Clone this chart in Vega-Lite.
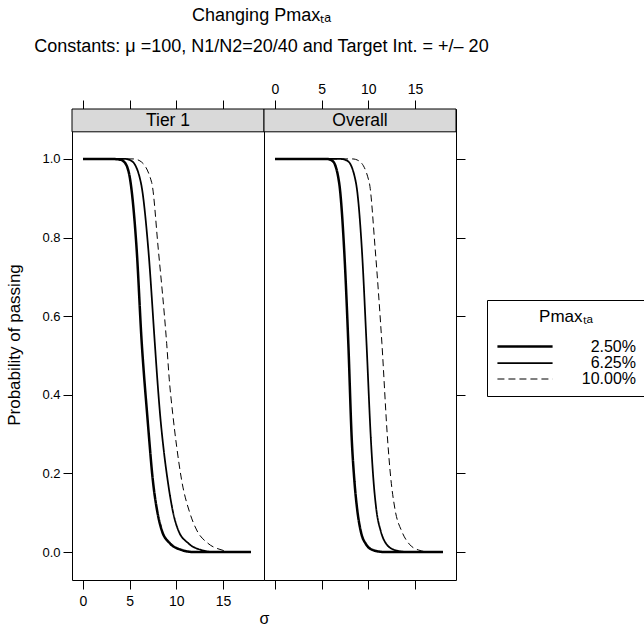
{
  "$schema": "https://vega.github.io/schema/vega-lite/v6.json",
  "padding": {"left": 5, "top": 6, "right": 0, "bottom": 2},
  "background": "white",
  "spacing": 0,
  "bounds": "flush",
  "config": {
    "font": "Liberation Sans",
    "view": {"stroke": "black", "strokeWidth": 1},
    "axis": {"domain": false, "grid": false, "tickColor": "black", "tickSize": 9, "labelColor": "black", "labelFontSize": 14, "labelFont": "Liberation Sans", "titleFont": "Liberation Sans", "titleFontWeight": "normal", "titleFontSize": 17, "titleColor": "black"},
    "legend": {"titleFontWeight": "normal", "titleFont": "Liberation Sans", "labelFont": "Liberation Sans", "orient": "none", "legendX": 415, "legendY": 191, "strokeColor": "black", "fillColor": "white", "padding": 9, "titleAnchor": "middle", "titleFontSize": 17, "labelFontSize": 16, "titleColor": "black", "labelColor": "black", "symbolType": "M-1,0H6.8", "symbolSize": 200, "symbolStrokeColor": "black", "labelAlign": "right", "labelOffset": 123, "rowPadding": 0, "titlePadding": 12}
  },
  "title": {
    "text": "Changing Pmaxₜₐ",
    "subtitle": "Constants: μ =100, N1/N2=20/40 and Target Int. = +/– 20",
    "fontSize": 18, "fontWeight": "normal", "subtitleFontSize": 18, "subtitleColor": "black", "color": "black",
    "subtitlePadding": 13, "anchor": "middle", "offset": 26, "dx": -64
  },
  "datasets": {
    "curves": [
      {"panel": "Tier 1", "pmax": "2.50%", "sigma": 0, "p": 1},
      {"panel": "Tier 1", "pmax": "2.50%", "sigma": 3, "p": 1},
      {"panel": "Tier 1", "pmax": "2.50%", "sigma": 4, "p": 0.998},
      {"panel": "Tier 1", "pmax": "2.50%", "sigma": 4.5, "p": 0.99},
      {"panel": "Tier 1", "pmax": "2.50%", "sigma": 5.1, "p": 0.94},
      {"panel": "Tier 1", "pmax": "2.50%", "sigma": 5.75, "p": 0.77},
      {"panel": "Tier 1", "pmax": "2.50%", "sigma": 6.3, "p": 0.53},
      {"panel": "Tier 1", "pmax": "2.50%", "sigma": 6.57, "p": 0.44},
      {"panel": "Tier 1", "pmax": "2.50%", "sigma": 6.86, "p": 0.355},
      {"panel": "Tier 1", "pmax": "2.50%", "sigma": 7.1, "p": 0.285},
      {"panel": "Tier 1", "pmax": "2.50%", "sigma": 7.43, "p": 0.195},
      {"panel": "Tier 1", "pmax": "2.50%", "sigma": 8.0, "p": 0.098},
      {"panel": "Tier 1", "pmax": "2.50%", "sigma": 8.43, "p": 0.056},
      {"panel": "Tier 1", "pmax": "2.50%", "sigma": 9.32, "p": 0.022},
      {"panel": "Tier 1", "pmax": "2.50%", "sigma": 10.6, "p": 0.005},
      {"panel": "Tier 1", "pmax": "2.50%", "sigma": 11.8, "p": 0},
      {"panel": "Tier 1", "pmax": "2.50%", "sigma": 18, "p": 0},
      {"panel": "Tier 1", "pmax": "6.25%", "sigma": 0, "p": 1},
      {"panel": "Tier 1", "pmax": "6.25%", "sigma": 4.5, "p": 1},
      {"panel": "Tier 1", "pmax": "6.25%", "sigma": 5.2, "p": 0.995},
      {"panel": "Tier 1", "pmax": "6.25%", "sigma": 6.2, "p": 0.94},
      {"panel": "Tier 1", "pmax": "6.25%", "sigma": 7.0, "p": 0.77},
      {"panel": "Tier 1", "pmax": "6.25%", "sigma": 7.7, "p": 0.53},
      {"panel": "Tier 1", "pmax": "6.25%", "sigma": 7.97, "p": 0.438},
      {"panel": "Tier 1", "pmax": "6.25%", "sigma": 8.25, "p": 0.353},
      {"panel": "Tier 1", "pmax": "6.25%", "sigma": 8.61, "p": 0.268},
      {"panel": "Tier 1", "pmax": "6.25%", "sigma": 9.07, "p": 0.183},
      {"panel": "Tier 1", "pmax": "6.25%", "sigma": 9.68, "p": 0.098},
      {"panel": "Tier 1", "pmax": "6.25%", "sigma": 10.2, "p": 0.056},
      {"panel": "Tier 1", "pmax": "6.25%", "sigma": 11.3, "p": 0.022},
      {"panel": "Tier 1", "pmax": "6.25%", "sigma": 12.7, "p": 0.005},
      {"panel": "Tier 1", "pmax": "6.25%", "sigma": 14, "p": 0},
      {"panel": "Tier 1", "pmax": "6.25%", "sigma": 18, "p": 0},
      {"panel": "Tier 1", "pmax": "10.00%", "sigma": 0, "p": 1},
      {"panel": "Tier 1", "pmax": "10.00%", "sigma": 5.4, "p": 1},
      {"panel": "Tier 1", "pmax": "10.00%", "sigma": 6.1, "p": 0.995},
      {"panel": "Tier 1", "pmax": "10.00%", "sigma": 7.36, "p": 0.94},
      {"panel": "Tier 1", "pmax": "10.00%", "sigma": 8.07, "p": 0.77},
      {"panel": "Tier 1", "pmax": "10.00%", "sigma": 8.97, "p": 0.53},
      {"panel": "Tier 1", "pmax": "10.00%", "sigma": 9.25, "p": 0.438},
      {"panel": "Tier 1", "pmax": "10.00%", "sigma": 9.61, "p": 0.353},
      {"panel": "Tier 1", "pmax": "10.00%", "sigma": 10.04, "p": 0.268},
      {"panel": "Tier 1", "pmax": "10.00%", "sigma": 10.57, "p": 0.183},
      {"panel": "Tier 1", "pmax": "10.00%", "sigma": 11.47, "p": 0.098},
      {"panel": "Tier 1", "pmax": "10.00%", "sigma": 12.18, "p": 0.056},
      {"panel": "Tier 1", "pmax": "10.00%", "sigma": 13.4, "p": 0.022},
      {"panel": "Tier 1", "pmax": "10.00%", "sigma": 14.9, "p": 0.005},
      {"panel": "Tier 1", "pmax": "10.00%", "sigma": 16, "p": 0},
      {"panel": "Tier 1", "pmax": "10.00%", "sigma": 18, "p": 0},
      {"panel": "Overall", "pmax": "2.50%", "sigma": 0, "p": 1},
      {"panel": "Overall", "pmax": "2.50%", "sigma": 5.5, "p": 1},
      {"panel": "Overall", "pmax": "2.50%", "sigma": 6.16, "p": 0.995},
      {"panel": "Overall", "pmax": "2.50%", "sigma": 6.87, "p": 0.94},
      {"panel": "Overall", "pmax": "2.50%", "sigma": 7.41, "p": 0.77},
      {"panel": "Overall", "pmax": "2.50%", "sigma": 7.86, "p": 0.53},
      {"panel": "Overall", "pmax": "2.50%", "sigma": 8.23, "p": 0.285},
      {"panel": "Overall", "pmax": "2.50%", "sigma": 8.48, "p": 0.19},
      {"panel": "Overall", "pmax": "2.50%", "sigma": 8.8, "p": 0.11},
      {"panel": "Overall", "pmax": "2.50%", "sigma": 9.2, "p": 0.052},
      {"panel": "Overall", "pmax": "2.50%", "sigma": 9.75, "p": 0.02},
      {"panel": "Overall", "pmax": "2.50%", "sigma": 10.5, "p": 0.005},
      {"panel": "Overall", "pmax": "2.50%", "sigma": 11.7, "p": 0},
      {"panel": "Overall", "pmax": "2.50%", "sigma": 18, "p": 0},
      {"panel": "Overall", "pmax": "6.25%", "sigma": 0, "p": 1},
      {"panel": "Overall", "pmax": "6.25%", "sigma": 7, "p": 1},
      {"panel": "Overall", "pmax": "6.25%", "sigma": 7.77, "p": 0.995},
      {"panel": "Overall", "pmax": "6.25%", "sigma": 8.67, "p": 0.94},
      {"panel": "Overall", "pmax": "6.25%", "sigma": 9.31, "p": 0.77},
      {"panel": "Overall", "pmax": "6.25%", "sigma": 9.81, "p": 0.53},
      {"panel": "Overall", "pmax": "6.25%", "sigma": 10.28, "p": 0.285},
      {"panel": "Overall", "pmax": "6.25%", "sigma": 10.53, "p": 0.19},
      {"panel": "Overall", "pmax": "6.25%", "sigma": 10.85, "p": 0.11},
      {"panel": "Overall", "pmax": "6.25%", "sigma": 11.35, "p": 0.052},
      {"panel": "Overall", "pmax": "6.25%", "sigma": 11.95, "p": 0.02},
      {"panel": "Overall", "pmax": "6.25%", "sigma": 12.85, "p": 0.005},
      {"panel": "Overall", "pmax": "6.25%", "sigma": 14.2, "p": 0},
      {"panel": "Overall", "pmax": "6.25%", "sigma": 18, "p": 0},
      {"panel": "Overall", "pmax": "10.00%", "sigma": 0, "p": 1},
      {"panel": "Overall", "pmax": "10.00%", "sigma": 8.3, "p": 1},
      {"panel": "Overall", "pmax": "10.00%", "sigma": 9.0, "p": 0.995},
      {"panel": "Overall", "pmax": "10.00%", "sigma": 10.1, "p": 0.94},
      {"panel": "Overall", "pmax": "10.00%", "sigma": 10.74, "p": 0.77},
      {"panel": "Overall", "pmax": "10.00%", "sigma": 11.46, "p": 0.53},
      {"panel": "Overall", "pmax": "10.00%", "sigma": 12.07, "p": 0.285},
      {"panel": "Overall", "pmax": "10.00%", "sigma": 12.4, "p": 0.19},
      {"panel": "Overall", "pmax": "10.00%", "sigma": 12.85, "p": 0.11},
      {"panel": "Overall", "pmax": "10.00%", "sigma": 13.6, "p": 0.052},
      {"panel": "Overall", "pmax": "10.00%", "sigma": 14.4, "p": 0.02},
      {"panel": "Overall", "pmax": "10.00%", "sigma": 15.4, "p": 0.005},
      {"panel": "Overall", "pmax": "10.00%", "sigma": 16.6, "p": 0},
      {"panel": "Overall", "pmax": "10.00%", "sigma": 18, "p": 0}
    ]
  },
  "hconcat": [
    {
      "width": 192, "height": 471,
      "layer": [
        {
          "data": {"name": "curves"},
          "transform": [{"filter": "datum.panel === 'Tier 1'"}],
          "mark": {"type": "line", "interpolate": "monotone", "color": "black", "clip": true},
          "encoding": {
            "x": {"field": "sigma", "type": "quantitative", "scale": {"domain": [-1.18, 19.4], "nice": false, "zero": false},
                  "axis": {"orient": "bottom", "values": [0, 5, 10, 15], "title": "σ", "titleFontSize": 16, "titleAnchor": "end", "titleAlign": "center", "titlePadding": 2, "labelPadding": 5}},
            "y": {"field": "p", "type": "quantitative", "scale": {"domain": [-0.0712, 1.127], "nice": false, "zero": false},
                  "axis": {"orient": "left", "values": [0, 0.2, 0.4, 0.6, 0.8, 1.0], "format": ".1f", "title": "Probability of passing", "labelPadding": 3, "labelFontSize": 13, "titlePadding": 18}},
            "strokeWidth": {"field": "pmax", "type": "ordinal", "scale": {"domain": ["2.50%", "6.25%", "10.00%"], "range": [2.5, 1, 1.2]}, "legend": {"title": "Pmaxₜₐ"}},
            "strokeDash": {"field": "pmax", "type": "ordinal", "scale": {"domain": ["2.50%", "6.25%", "10.00%"], "range": [[1, 0], [1, 0], [7, 4]]}, "legend": {"title": "Pmaxₜₐ"}}
          }
        },
        {
          "data": {"values": [{"label": "Tier 1"}]},
          "mark": {"type": "rect", "fill": "#d9d9d9", "stroke": "black", "strokeWidth": 1},
          "encoding": {
            "x": {"datum": -1.18, "axis": null}, "x2": {"datum": 19.4},
            "y": {"datum": 1.069}, "y2": {"datum": 1.127}
          }
        },
        {
          "data": {"values": [{"label": "Tier 1"}]},
          "mark": {"type": "text", "fontSize": 17.5, "color": "black", "baseline": "middle", "align": "center", "dy": 1},
          "encoding": {
            "x": {"datum": 9.11, "axis": null}, "y": {"datum": 1.098},
            "text": {"field": "label"}
          }
        },
        {
          "data": {"values": [{"label": "Tier 1"}]},
          "mark": {"type": "rule", "opacity": 0},
          "encoding": {
            "x": {"datum": 0, "axis": {"orient": "top", "values": [0, 5, 10, 15], "labels": false, "title": null}}
          }
        }
      ],
      "resolve": {"axis": {"x": "independent"}}
    },
    {
      "width": 192, "height": 471,
      "layer": [
        {
          "data": {"name": "curves"},
          "transform": [{"filter": "datum.panel === 'Overall'"}],
          "mark": {"type": "line", "interpolate": "monotone", "color": "black", "clip": true},
          "encoding": {
            "x": {"field": "sigma", "type": "quantitative", "scale": {"domain": [-1.18, 19.4], "nice": false, "zero": false},
                  "axis": {"orient": "top", "values": [0, 5, 10, 15], "title": null, "labelPadding": 4}},
            "y": {"field": "p", "type": "quantitative", "scale": {"domain": [-0.0712, 1.127], "nice": false, "zero": false},
                  "axis": {"orient": "right", "values": [0, 0.2, 0.4, 0.6, 0.8, 1.0], "labels": false, "title": null}},
            "strokeWidth": {"field": "pmax", "type": "ordinal", "scale": {"domain": ["2.50%", "6.25%", "10.00%"], "range": [2.5, 1, 1.2]}, "legend": {"title": "Pmaxₜₐ"}},
            "strokeDash": {"field": "pmax", "type": "ordinal", "scale": {"domain": ["2.50%", "6.25%", "10.00%"], "range": [[1, 0], [1, 0], [7, 4]]}, "legend": {"title": "Pmaxₜₐ"}}
          }
        },
        {
          "data": {"values": [{"label": "Overall"}]},
          "mark": {"type": "rect", "fill": "#d9d9d9", "stroke": "black", "strokeWidth": 1},
          "encoding": {
            "x": {"datum": -1.18, "axis": null}, "x2": {"datum": 19.4},
            "y": {"datum": 1.069}, "y2": {"datum": 1.127}
          }
        },
        {
          "data": {"values": [{"label": "Overall"}]},
          "mark": {"type": "text", "fontSize": 17.5, "color": "black", "baseline": "middle", "align": "center", "dy": 1},
          "encoding": {
            "x": {"datum": 9.11, "axis": null}, "y": {"datum": 1.098},
            "text": {"field": "label"}
          }
        },
        {
          "data": {"values": [{"label": "Overall"}]},
          "mark": {"type": "rule", "opacity": 0},
          "encoding": {
            "x": {"datum": 0, "axis": {"orient": "bottom", "values": [0, 5, 10, 15], "labels": false, "title": null}}
          }
        }
      ],
      "resolve": {"axis": {"x": "independent"}}
    }
  ]
}
